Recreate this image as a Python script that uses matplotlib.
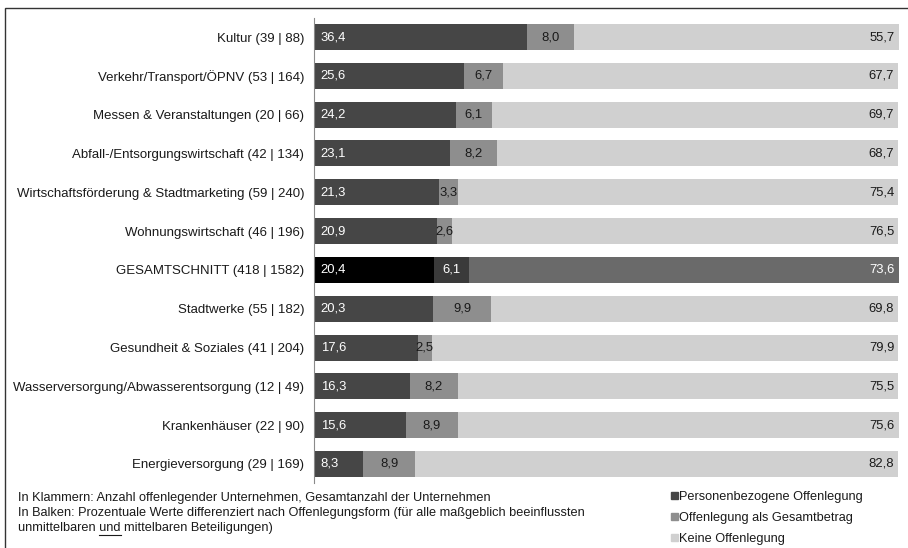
import matplotlib.pyplot as plt
from matplotlib.patches import Rectangle
import numpy as np

plt.rcParams['font.family'] = ['Liberation Sans', 'DejaVu Sans']

kategorien = ['Kultur (39 | 88)', 'Verkehr/Transport/ÖPNV (53 | 164)',
              'Messen & Veranstaltungen (20 | 66)', 'Abfall-/Entsorgungswirtschaft (42 | 134)',
              'Wirtschaftsförderung & Stadtmarketing (59 | 240)', 'Wohnungswirtschaft (46 | 196)',
              'GESAMTSCHNITT (418 | 1582)', 'Stadtwerke (55 | 182)',
              'Gesundheit & Soziales (41 | 204)', 'Wasserversorgung/Abwasserentsorgung (12 | 49)',
              'Krankenhäuser (22 | 90)', 'Energieversorgung (29 | 169)']
personen = [36.4, 25.6, 24.2, 23.1, 21.3, 20.9, 20.4, 20.3, 17.6, 16.3, 15.6, 8.3]
gesamt = [8.0, 6.7, 6.1, 8.2, 3.3, 2.6, 6.1, 9.9, 2.5, 8.2, 8.9, 8.9]
keine = [55.7, 67.7, 69.7, 68.7, 75.4, 76.5, 73.6, 69.8, 79.9, 75.5, 75.6, 82.8]
legende = ['Personenbezogene Offenlegung', 'Offenlegung als Gesamtbetrag', 'Keine Offenlegung']

farben = ['#464646', '#8e8e8e', '#d0d0d0']
farben_gesamt = ['#000000', '#3a3a3a', '#6a6a6a']

W, H = 908, 548
fig = plt.figure(figsize=(W / 100, H / 100), dpi=100)
ax = fig.add_axes([314 / W, 1 - 483.4 / H, (900 - 314) / W, (483.4 - 17.6) / H])

y = np.arange(len(kategorien))
fs = 9.2
for i in y:
    f = farben_gesamt if kategorien[i].startswith('GESAMT') else farben
    links = 0
    for j, wert in enumerate([personen[i], gesamt[i], keine[i]]):
        ax.barh(i, wert, left=links, height=0.67, color=f[j], edgecolor='none')
        txt = f'{wert:.1f}'.replace('.', ',')
        if f is farben_gesamt:
            tc = 'white'
        else:
            tc = 'white' if j == 0 else '#1a1a1a'
        if j == 0:
            ax.text(links + 1.0, i, txt, ha='left', va='center', color=tc, fontsize=9.4)
        elif j == 1:
            ax.text(links + wert / 2, i, txt, ha='center', va='center', color=tc, fontsize=9.4)
        else:
            ax.text(links + wert - 0.7, i, txt, ha='right', va='center', color=tc, fontsize=9.4)
        links += wert

ax.set_xlim(-0.15, 100.3)
ax.set_ylim(11.5, -0.5)
ax.set_yticks(y)
ax.set_yticklabels(kategorien, fontsize=9.5, color='#1a1a1a')
ax.tick_params(axis='y', length=0, pad=7)
ax.set_xticks([])
for s in ['top', 'right', 'bottom']:
    ax.spines[s].set_visible(False)
ax.spines['left'].set_color('#8a8a8a')
ax.spines['left'].set_linewidth(0.8)

# Rahmen
fig.patches.append(Rectangle((5 / W, -0.1), 1.2, 1 - 8 / H + 0.1, transform=fig.transFigure,
                             fill=False, edgecolor='#333333', linewidth=1.0))

# Fußnote
zeilen = ['In Klammern: Anzahl offenlegender Unternehmen, Gesamtanzahl der Unternehmen',
          'In Balken: Prozentuale Werte differenziert nach Offenlegungsform (für alle maßgeblich beeinflussten',
          'unmittelbaren und mittelbaren Beteiligungen)']
for k, z in enumerate(zeilen):
    fig.text(18 / W, 1 - (498 + 15 * k) / H, z, fontsize=fs, color='#1a1a1a', va='center')

# "und" unterstreichen
r = fig.canvas.get_renderer()
t1 = fig.text(18 / W, 0, 'unmittelbaren ', fontsize=fs, alpha=0)
t2 = fig.text(18 / W, 0, 'unmittelbaren und', fontsize=fs, alpha=0)
x0 = 18 + t1.get_window_extent(r).width
x1 = 18 + t2.get_window_extent(r).width
uy = 1 - 534.5 / H
fig.add_artist(plt.Line2D([x0 / W, x1 / W], [uy, uy], transform=fig.transFigure,
                          color='#1a1a1a', linewidth=0.8))

# Legende
for k, name in enumerate(legende):
    yy = 1 - (497 + 21 * k) / H
    fig.patches.append(Rectangle((671 / W, yy - 2 / H), 7 / W, 7 / H,
                                 transform=fig.transFigure, color=farben[k]))
    fig.text(679 / W, yy, name, fontsize=fs, color='#1a1a1a', va='center')

fig.savefig('out.png', dpi=100)
